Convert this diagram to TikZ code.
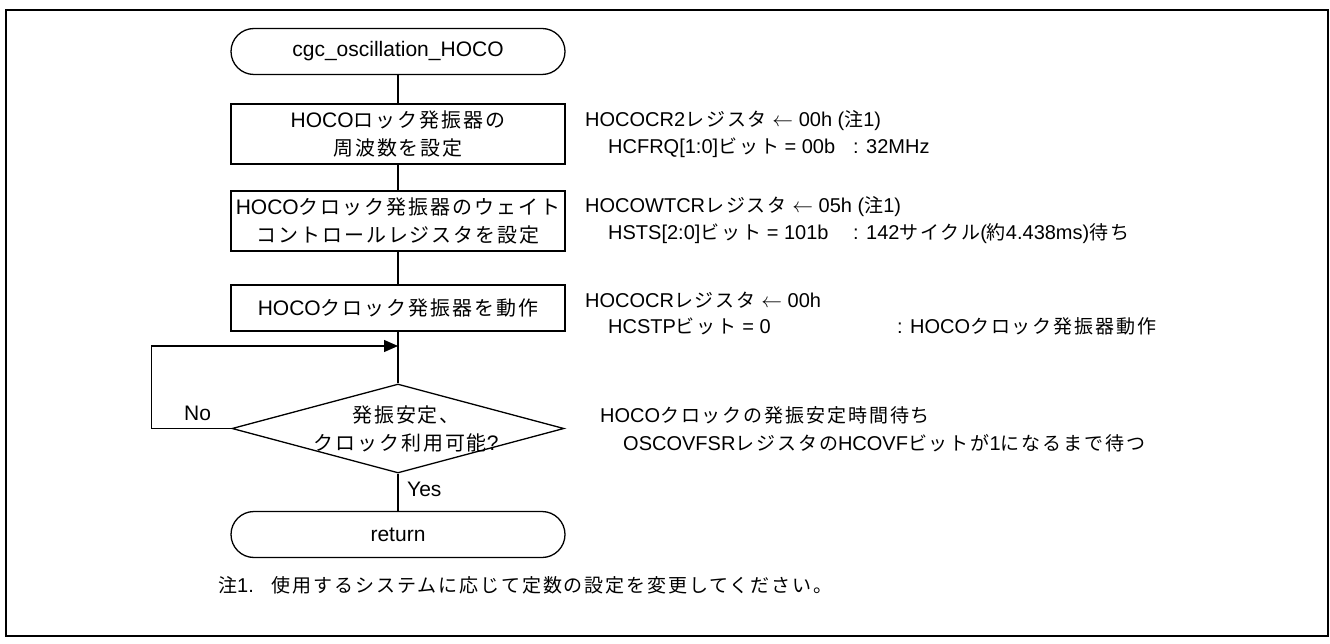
\documentclass[tikz,border=0pt]{standalone}
\usepackage{fontspec}
\setmainfont{Liberation Sans}
\newfontfamily\jpfont{Noto Sans CJK JP}[Scale=0.95,LetterSpace=10]
\usetikzlibrary{shapes.geometric,arrows.meta}
\newcommand\J[1]{{\jpfont #1}}
\newcommand\larr{$\leftarrow$}
\begin{document}
\begin{tikzpicture}[x=1pt,y=-1pt, font=\fontsize{21}{28}\selectfont,
  box/.style={draw, line width=1.3pt, minimum width=334pt, inner sep=0pt, align=center},
  term/.style={box, rounded corners=23pt, minimum height=46pt},
  proc/.style={box, minimum height=60pt},
  note/.style={anchor=base west, inner sep=0pt, font=\fontsize{20}{27}\selectfont},
  flow/.style={line width=1.3pt}]
\useasboundingbox (0,0) rectangle (1330,644);
\draw[line width=2.5pt] (6,10) rectangle (1328,636);
\node[term] (start) at (398,51.5) {cgc\_oscillation\_HOCO};
\node[proc] (b1) at (398,134) {HOCO\J{ロック発振器の}\\\J{周波数を設定}};
\node[proc] (b2) at (398,221) {HOCO\J{クロック発振器のウェイト}\\\J{コントロールレジスタを設定}};
\node[box, minimum height=46pt] (b3) at (398,308) {HOCO\J{クロック発振器を動作}};
\node[diamond, draw, line width=1.3pt, minimum width=332pt, minimum height=89pt, inner sep=0pt] (dec) at (398,428.5) {};
\node[align=center, inner sep=0pt] (dectext) at (406,429) {\J{発振安定、}\\\J{クロック利用可能}?};
\node[term] (ret) at (398,534.5) {return};
\coordinate (join) at (398,346);
\draw[flow] (start) -- (b1);
\draw[flow] (b1) -- (b2);
\draw[flow] (b2) -- (b3);
\draw[flow] (b3.south) -- (dec.north);
\draw[flow] (dec) -- (ret);
\draw[flow,-{Triangle[length=14pt,width=12pt]}] (dec.west) -- ++(-80,0) |- (join);
\node[note, font=\fontsize{21}{28}\selectfont] (no) at (184,420) {No};
\node[note, font=\fontsize{21}{28}\selectfont] (yes) at (407,496) {Yes};
\node[note] (a1) at (585,127) {HOCOCR2\J{レジスタ} \larr{} 00h (\J{注}1)};
\node[note] (a2) at (608,154) {HCFRQ[1:0]\J{ビット} = 00b};
\node[note] (a2b) at (853,154) {: 32MHz};
\node[note] (a3) at (585,213) {HOCOWTCR\J{レジスタ} \larr{} 05h (\J{注}1)};
\node[note] (a4) at (608,240) {HSTS[2:0]\J{ビット} = 101b};
\node[note] (a4b) at (853,240) {: 142\J{サイクル}(\J{約}4.438ms)\J{待ち}};
\node[note] (a5) at (585,308) {HOCOCR\J{レジスタ} \larr{} 00h};
\node[note] (a6) at (608,333) {HCSTP\J{ビット} = 0};
\node[note] (a6b) at (897,333) {: HOCO\J{クロック発振器動作}};
\node[note] (a7) at (600,422) {HOCO\J{クロックの発振安定時間待ち}};
\node[note] (a8) at (623,450) {OSCOVFSR\J{レジスタの}HCOVF\J{ビットが}1\J{になるまで待つ}};
\node[note] (n1) at (218,592) {\J{注}1.\hspace{18pt}\J{使用するシステムに応じて定数の設定を変更してください。}};
\end{tikzpicture}
\end{document}
